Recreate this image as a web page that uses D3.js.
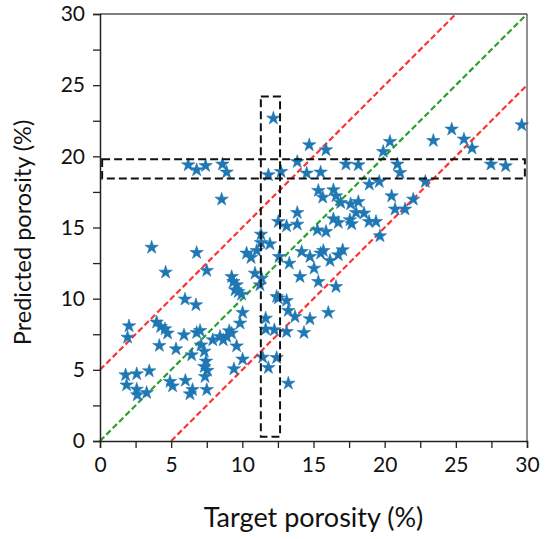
<!DOCTYPE html>
<html>
<head>
<meta charset="utf-8">
<script src="https://cdnjs.cloudflare.com/ajax/libs/d3/7.8.5/d3.min.js"></script>
<style>
  body { margin: 0; background: #fff; }
  svg { font-family: Lato, "Open Sans", sans-serif; }
</style>
</head>
<body>
<svg id="chart" width="547" height="539"></svg>
<script>
// target vs predicted porosity (%)
var targetPorosity = [
  12.18, 6.2, 6.79, 7.42, 8.6, 8.9, 8.55, 11.83, 12.72, 13.86, 14.52, 14.7, 15.88, 15.5,
  17.28, 18.15, 19.9, 20.37, 20.89, 21.08, 18.92, 19.62, 23.42, 24.71, 25.57, 26.14,
  27.47, 28.5, 29.63, 22.86, 15.34, 15.65, 16.4, 16.58, 20.49, 22.01,
  12.53, 13.11, 13.86, 13.86, 16.91, 17.61, 18.15, 17.99, 18.55, 17.56, 17.68, 16.4,
  16.74, 18.9, 19.39, 20.73, 21.43, 15.27, 15.88, 19.67,
  14.17, 14.75, 15.5, 15.69, 16.16, 16.74, 17.05, 15.04, 15.34, 16.58, 14.05, 16.04,
  14.75, 14.33, 11.31, 11.31, 11.94, 11.01, 10.3, 10.61, 12.58, 13.3,
  9.25, 9.37, 9.6, 9.49, 9.72, 9.95, 10.89, 11.36, 7.5, 11.24, 12.41, 12.53, 13.11,
  13.23, 13.7, 13.11, 12.25, 11.64, 11.64, 9.84, 10.02, 9.6, 10.02, 9.41, 11.43, 12.41,
  11.83, 13.23, 7.5, 6.5, 6.32, 6.0, 5.97, 6.74, 5.9, 6.79, 7.03, 6.44,
  7.1, 7.33, 7.45, 7.33, 7.54, 7.38, 7.92, 8.43, 8.66, 8.9, 9.08, 9.25,
  3.63, 6.79, 4.61, 2.04, 1.94, 3.98, 4.26, 4.57, 4.75, 4.17, 5.34,
  1.8, 2.58, 3.46, 1.87, 2.58, 2.62, 3.28, 4.92, 5.1
];
var predictedPorosity = [
  22.67, 19.39, 19.04, 19.34, 19.44, 18.88, 16.98, 18.69, 18.92, 19.62, 18.81, 20.8, 20.45, 18.88,
  19.44, 19.39, 20.33, 21.03, 19.44, 18.85, 18.03, 18.22, 21.1, 21.9, 21.2, 20.57,
  19.44, 19.32, 22.2, 18.22, 17.59, 17.12, 17.64, 17.21, 17.21, 16.98,
  15.41, 15.1, 16.04, 15.22, 16.74, 16.65, 16.81, 16.04, 16.0, 15.53, 15.25, 15.6,
  15.34, 15.41, 15.41, 16.28, 16.28, 14.82, 14.71, 14.4,
  13.3, 12.95, 13.19, 13.37, 12.67, 13.07, 13.42, 12.13, 11.19, 10.84, 11.54, 9.02,
  8.57, 7.61, 14.52, 13.93, 13.84, 13.37, 13.19, 12.88, 12.95, 12.48,
  11.54, 11.19, 10.96, 10.61, 10.49, 10.3, 11.78, 11.43, 11.97, 10.96, 10.14, 10.03, 9.86,
  9.16, 8.73, 7.68, 7.8, 7.85, 8.62, 8.27, 9.02, 6.67, 5.74, 5.06, 5.88, 5.85,
  5.15, 4.05, 3.6, 3.6, 3.3, 4.25, 9.96, 9.56, 7.45, 7.61, 7.75, 6.04,
  6.74, 6.3, 5.6, 5.22, 4.95, 4.52, 7.1, 7.33, 7.1, 7.33, 7.73, 7.57,
  13.6, 13.23, 11.85, 8.08, 7.28, 8.34, 8.03, 7.87, 7.57, 6.7, 6.46,
  4.64, 4.71, 4.92, 3.93, 3.63, 3.23, 3.39, 4.17, 3.86
];
var tickValues = [0, 5, 10, 15, 20, 25, 30];
var minorTicks = d3.range(0, 30.01, 2.5);
// reference lines: y = x + offset
var lineOffsets = [5, 0, -5];
var lineColors = ["#ff3333", "#2ca02c", "#ff3333"];
// highlighted bands [x0, x1, y0, y1]
var bands = [[0.15, 29.85, 18.45, 19.8], [11.3, 12.65, 0.3, 24.2]];

var svg = d3.select("#chart");
var m = { left: 100, right: 20, top: 14, bottom: 98 };
var W = 547 - m.left - m.right, H = 539 - m.top - m.bottom;
var g = svg.append("g").attr("transform", "translate(" + m.left + "," + m.top + ")");

var x = d3.scaleLinear().domain([0, 30]).range([0, W]);
var y = d3.scaleLinear().domain([0, 30]).range([H, 0]);

// diagonal lines
lineOffsets.forEach(function(o, i) {
  var x0 = Math.max(0, -o), x1 = Math.min(30, 30 - o);
  g.append("line")
    .attr("x1", x(x0)).attr("y1", y(x0 + o))
    .attr("x2", x(x1)).attr("y2", y(x1 + o))
    .attr("stroke", lineColors[i])
    .attr("stroke-width", 2.2)
    .attr("stroke-dasharray", "6,3");
});

// points
g.append("g").selectAll("path")
  .data(targetPorosity)
  .enter().append("path")
  .attr("d", d3.symbol().type(d3.symbolStar).size(56))
  .attr("transform", function(d, i) {
    return "translate(" + x(d) + "," + y(predictedPorosity[i]) + ")";
  })
  .attr("fill", "#1f77b4")
  .attr("stroke", "#1f77b4")
  .attr("stroke-width", 0.6)
  .attr("stroke-linejoin", "round");

// dashed boxes
g.append("g").selectAll("rect")
  .data(bands)
  .enter().append("rect")
  .attr("x", function(d) { return x(d[0]); })
  .attr("y", function(d) { return y(d[3]); })
  .attr("width", function(d) { return x(d[1]) - x(d[0]); })
  .attr("height", function(d) { return y(d[2]) - y(d[3]); })
  .attr("fill", "none")
  .attr("stroke", "#111")
  .attr("stroke-width", 2)
  .attr("stroke-dasharray", "8,4");

// frame (top/right lighter)
g.append("line").attr("x1", 0).attr("x2", W).attr("y1", 0).attr("y2", 0)
  .attr("stroke", "#555").attr("stroke-width", 1.3);
g.append("line").attr("x1", W).attr("x2", W).attr("y1", 0).attr("y2", H)
  .attr("stroke", "#555").attr("stroke-width", 1.3);

// axes
var xAxis = d3.axisBottom(x).tickValues(minorTicks).tickSize(7).tickPadding(9)
  .tickFormat(function(d) { return d % 5 === 0 ? d : ""; });
var yAxis = d3.axisLeft(y).tickValues(minorTicks).tickSize(7).tickPadding(8)
  .tickFormat(function(d) { return d % 5 === 0 ? d : ""; });

var gx = g.append("g").attr("transform", "translate(0," + H + ")").call(xAxis);
var gy = g.append("g").call(yAxis);
[gx, gy].forEach(function(a) {
  a.select(".domain").attr("stroke", "#222").attr("stroke-width", 1.5);
  a.selectAll(".tick line").attr("stroke", "#222").attr("stroke-width", 1.3);
  a.selectAll("text").attr("font-size", 21).attr("fill", "#111")
    .attr("font-family", "Lato, 'Open Sans', sans-serif");
});

// axis titles
svg.append("text")
  .attr("x", m.left + W / 2).attr("y", 527)
  .attr("text-anchor", "middle")
  .attr("font-size", 27).attr("fill", "#111")
  .text("Target porosity (%)");
svg.append("text")
  .attr("transform", "translate(31," + (m.top + H / 2 + 5) + ") rotate(-90)")
  .attr("text-anchor", "middle")
  .attr("font-size", 23.5).attr("fill", "#111")
  .text("Predicted porosity (%)");
</script>
</body>
</html>
